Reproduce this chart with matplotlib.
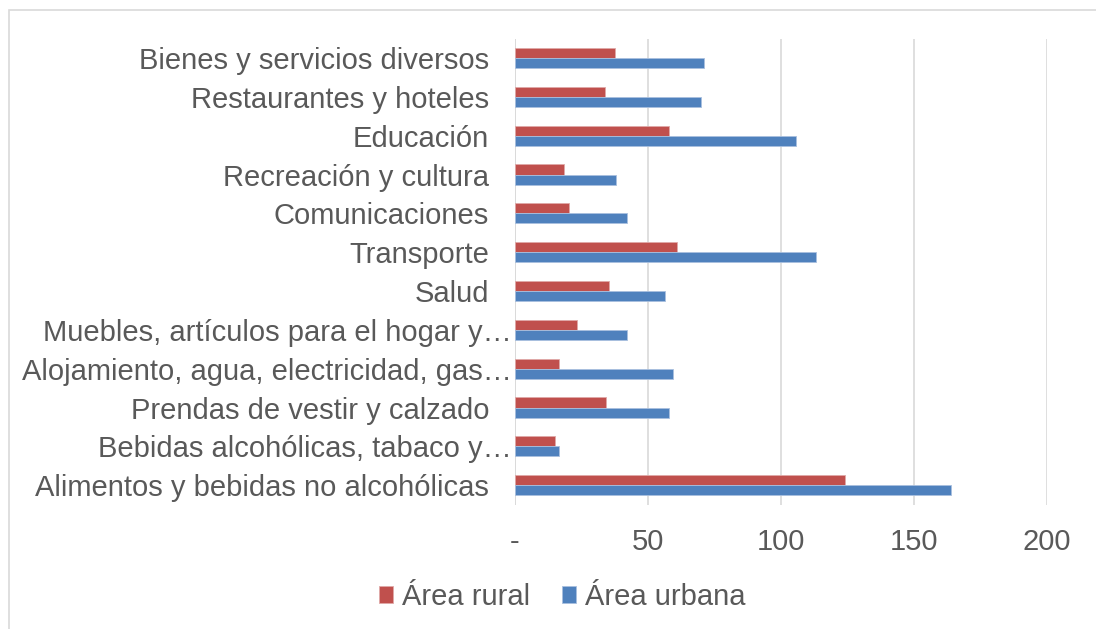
import matplotlib
matplotlib.use("Agg")
import matplotlib.pyplot as plt
import matplotlib.transforms as mtransforms
import numpy as np
from matplotlib.patches import Rectangle

plt.rcParams['font.family'] = ['Liberation Sans', 'DejaVu Sans']

categories = [
    "Alimentos y bebidas no alcohólicas",
    "Bebidas alcohólicas, tabaco y…",
    "Prendas de vestir y calzado",
    "Alojamiento, agua, electricidad, gas…",
    "Muebles, artículos para el hogar y…",
    "Salud",
    "Transporte",
    "Comunicaciones",
    "Recreación y cultura",
    "Educación",
    "Restaurantes y hoteles",
    "Bienes y servicios diversos",
]
rural = [124.1, 15.0, 34.4, 16.8, 23.4, 35.5, 61.0, 20.5, 18.4, 57.9, 33.8, 37.8]
urbana = [163.9, 16.8, 58.0, 59.4, 42.3, 56.4, 113.3, 42.3, 38.2, 105.6, 69.9, 71.3]
xticks = [0, 50, 100, 150, 200]
xticklabels = ["-", "50", "100", "150", "200"]

W, H = 1096, 629
FS = 21
fig = plt.figure(figsize=(W / 100, H / 100), dpi=100)
ax = fig.add_axes([514.7 / W, 1 - 504.6 / H, (1046.7 - 514.7) / W, (504.6 - 38.6) / H])

red = "#C0504D"
blue = "#4F81BD"
text_col = "#595959"

y = np.arange(len(categories))
h = 0.26
ax.barh(y + h / 2, rural, height=h, color=red, edgecolor="#e0a9a8", linewidth=0.6, label="Área rural", zorder=3)
ax.barh(y - h / 2, urbana, height=h, color=blue, edgecolor="#a9c0df", linewidth=0.6, label="Área urbana", zorder=3)

ax.set_xlim(0, 200)
ax.set_ylim(-0.5, len(categories) - 0.5)
ax.set_yticks(y)
ax.set_yticklabels(categories, fontsize=FS, color=text_col)
ax.set_xticks(xticks)
ax.set_xticklabels(xticklabels, fontsize=FS, color=text_col)
ax.tick_params(axis='both', length=0)
ax.tick_params(axis='y', pad=18.5)
ax.tick_params(axis='x', pad=17)
ax.grid(axis='x', color="#d9d9d9", linewidth=1.2, zorder=0)
for s in ax.spines.values():
    s.set_visible(False)
ax.axvline(0, color="#d9d9d9", linewidth=1.2, zorder=1)

# truncated labels sit closer to the axis in the original
shift = mtransforms.ScaledTranslation(23 / 100, 0, fig.dpi_scale_trans)
for lbl in ax.get_yticklabels():
    if lbl.get_text().endswith("…"):
        lbl.set_transform(lbl.get_transform() + shift)

leg = fig.legend(loc='center', bbox_to_anchor=(562 / W, 1 - 597 / H), ncol=2, frameon=False,
                 fontsize=FS, handlelength=0.5, handleheight=0.5, handletextpad=0.28, columnspacing=1.1)
for t in leg.get_texts():
    t.set_color(text_col)

fig.patches.append(Rectangle((8.5 / W, -0.1), 1.2, (1 - 10 / H) + 0.1, transform=fig.transFigure,
                             fill=False, edgecolor="#d9d9d9", linewidth=1.2))

fig.savefig("out.png", dpi=100)
